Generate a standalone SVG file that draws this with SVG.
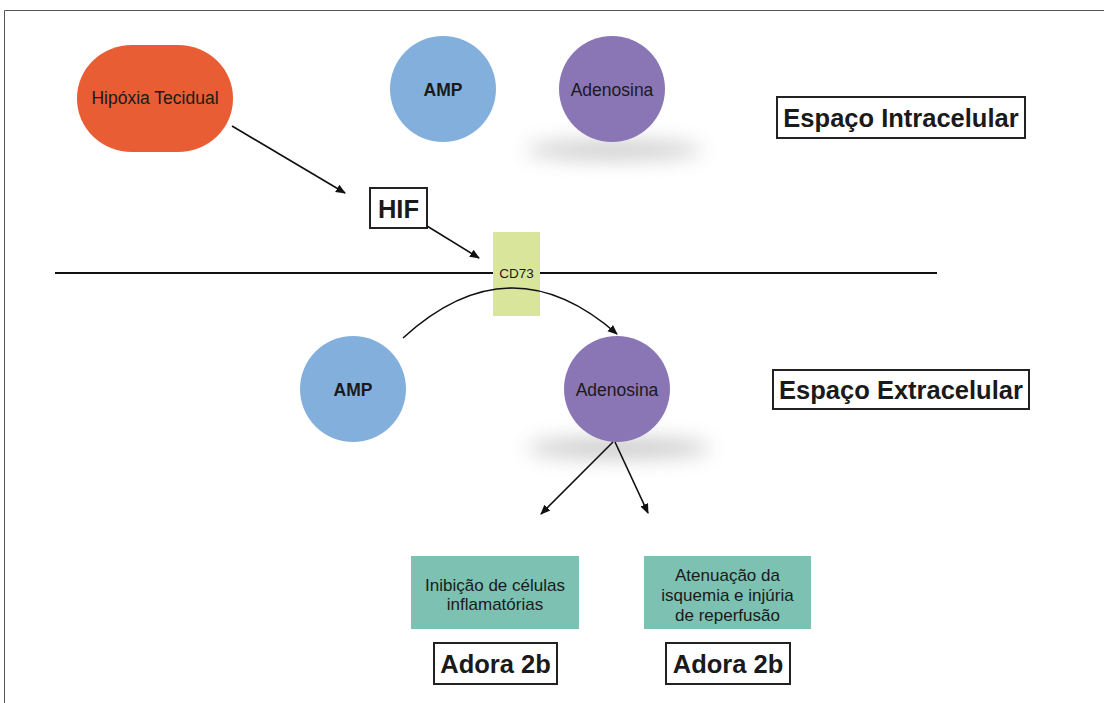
<svg xmlns="http://www.w3.org/2000/svg" width="1104" height="703" viewBox="0 0 1104 703">
<style>
.t{font-family:"Liberation Sans",Arial,sans-serif;fill:#1a1a1a;text-anchor:middle;dominant-baseline:central}
.lbl{font-size:25.5px;font-weight:bold}
.c{font-size:17.5px}
.g{font-size:17px}
.box{fill:#fff;stroke:#222;stroke-width:2}
.green{fill:#7cc1b2}
.cn{stroke:#111;stroke-width:1.6;fill:none}
</style>
<defs>
<marker id="ah" markerWidth="10" markerHeight="10" refX="9" refY="5" orient="auto" markerUnits="userSpaceOnUse" viewBox="0 0 10 10">
<path d="M0,0.8 L10,5 L0,9.2 Z" fill="#111"/>
</marker>
<filter id="blur" x="-50%" y="-100%" width="200%" height="300%"><feGaussianBlur stdDeviation="10"/></filter>
</defs>
<rect width="1104" height="703" fill="#fff"/>
<path d="M4.5,703 V10.5 H1104" fill="none" stroke="#555" stroke-width="1"/>
<line x1="55" y1="273" x2="937" y2="273" stroke="#111" stroke-width="2"/>

<g id="hipoxia">
<rect x="77" y="45" width="156" height="107" rx="55" ry="53" fill="#e95d35"/>
<text class="t c" x="155" y="98">Hipóxia Tecidual</text>
</g>
<g id="amp-top">
<circle cx="443" cy="89" r="53" fill="#83afdc"/>
<text class="t c" x="443" y="90" font-weight="bold">AMP</text>
</g>
<g id="adenosina-top">
<ellipse cx="614" cy="150" rx="88" ry="9" fill="#888" opacity="0.45" filter="url(#blur)"/>
<circle cx="612" cy="89" r="53" fill="#8a76b5"/>
<text class="t c" x="612" y="90">Adenosina</text>
</g>
<g id="intracelular">
<rect class="box" x="777" y="97" width="248" height="41"/>
<text class="t lbl" x="901" y="118">Espaço Intracelular</text>
</g>
<g id="hif">
<rect class="box" x="370" y="188" width="57" height="40"/>
<text class="t lbl" x="398.5" y="209">HIF</text>
</g>
<g id="cd73">
<rect x="493" y="232" width="47" height="84" fill="#d9e59b"/>
<text class="t" x="516.5" y="273" font-size="13.5">CD73</text>
</g>
<g id="amp-bottom">
<circle cx="353" cy="389" r="53" fill="#83afdc"/>
<text class="t c" x="353" y="390" font-weight="bold">AMP</text>
</g>
<g id="adenosina-bottom">
<ellipse cx="619" cy="448" rx="92" ry="10" fill="#888" opacity="0.45" filter="url(#blur)"/>
<circle cx="617" cy="389" r="53" fill="#8a76b5"/>
<text class="t c" x="617" y="390">Adenosina</text>
</g>
<g id="extracelular">
<rect class="box" x="773" y="370" width="256" height="39"/>
<text class="t lbl" x="901" y="390">Espaço Extracelular</text>
</g>
<g id="inibicao">
<rect class="green" x="411" y="556" width="168" height="73"/>
<text class="t g" x="495" y="585">Inibição de células</text>
<text class="t g" x="495" y="604">inflamatórias</text>
</g>
<g id="atenuacao">
<rect class="green" x="644" y="556" width="167" height="73"/>
<text class="t g" x="727.5" y="575">Atenuação da</text>
<text class="t g" x="727.5" y="595">isquemia e injúria</text>
<text class="t g" x="727.5" y="615">de reperfusão</text>
</g>
<g id="adora1">
<rect class="box" x="434" y="643" width="123" height="41"/>
<text class="t lbl" x="495.5" y="664">Adora 2b</text>
</g>
<g id="adora2">
<rect class="box" x="666" y="643" width="124" height="41"/>
<text class="t lbl" x="728" y="664">Adora 2b</text>
</g>
<g id="connectors">
<line class="cn" x1="232" y1="126" x2="345" y2="193" marker-end="url(#ah)"/>
<line class="cn" x1="427" y1="226" x2="479" y2="258" marker-end="url(#ah)"/>
<path class="cn" d="M403,338 Q510,240 617,334" marker-end="url(#ah)"/>
<line class="cn" x1="613" y1="442" x2="541" y2="514" marker-end="url(#ah)"/>
<line class="cn" x1="615" y1="442" x2="648" y2="513" marker-end="url(#ah)"/>
</g>
</svg>
